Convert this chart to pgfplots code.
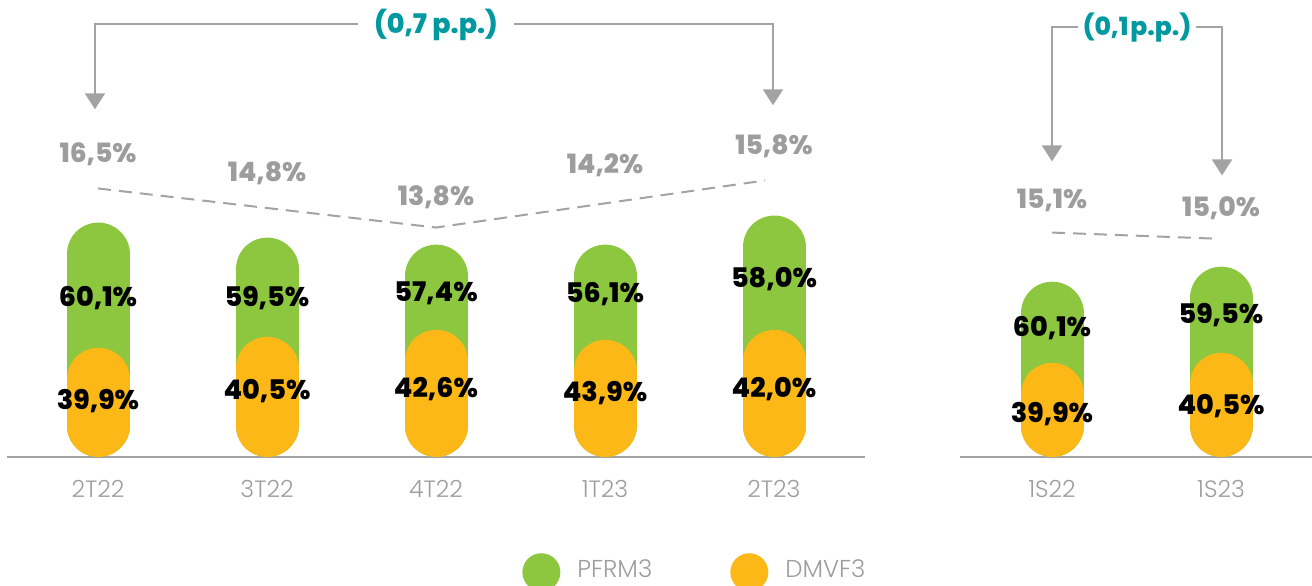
\documentclass[border=0pt]{standalone}
\usepackage{fontspec}
\setmainfont{Poppins}
\IfFontExistsTF{Poppins Light}{\newfontfamily\lightfont{Poppins Light}}{\newfontfamily\lightfont{Poppins}}
\IfFontExistsTF{Poppins ExtraBold}{\newfontfamily\heavyfont{Poppins ExtraBold}}{\newcommand\heavyfont{\bfseries}}
\usepackage{pgfplots}
\pgfplotsset{compat=1.18}
\usetikzlibrary{arrows.meta}
\definecolor{pfgreen}{HTML}{8DC63F}
\definecolor{dmorange}{HTML}{FBB817}
\definecolor{txtgray}{HTML}{9D9D9D}
\definecolor{lngray}{HTML}{A3A3A3}
\definecolor{ppteal}{HTML}{00999F}
\pgfplotsset{
  pillpanel/.style={
    scale only axis, height=228.5pt, ymin=0, ymax=457,
    axis y line=none, axis x line*=bottom,
    x axis line style={draw=lngray, line width=1pt, -},
    major tick length=0pt, clip=false, unbounded coords=jump,
    xticklabel style={font=\lightfont\fontsize{11.8}{12}\selectfont, text=txtgray, anchor=base, yshift=-20pt},
  },
  gpill/.style={color=pfgreen, line width=31.5pt, line cap=round},
  opill/.style={color=dmorange, line width=31.5pt, line cap=round},
  trend/.style={lngray, line width=1pt, dash pattern=on 6.5pt off 4pt},
}
\tikzset{
  vlab/.style={anchor=base, font=\heavyfont\fontsize{13.5}{14}\selectfont, text=black},
  glab/.style={anchor=base, font=\heavyfont\fontsize{13.3}{14}\selectfont, text=txtgray},
  tlab/.style={anchor=base, font=\heavyfont\fontsize{13.5}{14}\selectfont, text=ppteal},
  brk/.style={draw=lngray, line width=1pt, -{Triangle[width=10pt,length=8pt]}},
}
\begin{document}
\begin{tikzpicture}
% ---------------- left panel (quarters) ----------------
\begin{axis}[pillpanel, at={(3.5pt,64pt)}, anchor=south west,
  width=429pt, xmin=-0.5385, xmax=4.5385,
  xtick={0,1,2,3,4}, xticklabels={2T22,3T22,4T22,1T23,2T23},
  legend columns=2,
  legend image code/.code={\fill[#1,draw=none] (0pt,-1pt) circle (9.5pt);},
  legend style={at={(axis description cs:0.6002,-0.2516)}, anchor=west,
    draw=none, fill=none, inner sep=0pt,
    font=\lightfont\fontsize{12.2}{14}\selectfont, text=txtgray,
    nodes={inner sep=0pt},
    /tikz/every odd column/.append style={column sep=8.5pt},
    /tikz/every even column/.append style={column sep=39pt}},
]
\addplot[gpill] table[row sep=\\] {x y\\ 0 31.5\\ 0 202.5\\ 0 nan\\ 1 31.5\\ 1 187.5\\ 1 nan\\ 2 31.5\\ 2 180.5\\ 2 nan\\ 3 31.5\\ 3 180.5\\ 3 nan\\ 4 31.5\\ 4 209.5\\};
\addlegendentry{PFRM3}
\addplot[opill] table[row sep=\\] {x y\\ 0 31.5\\ 0 77.5\\ 0 nan\\ 1 31.5\\ 1 88.5\\ 1 nan\\ 2 31.5\\ 2 95.5\\ 2 nan\\ 3 31.5\\ 3 85.5\\ 3 nan\\ 4 31.5\\ 4 95.5\\};
\addlegendentry{DMVF3}
\addplot[trend, forget plot] coordinates {(0,268) (2,229) (3.947,276)};
% value labels
\node[vlab] at (axis cs:0,150.5) {60,1\%};
\node[vlab] at (axis cs:0,47.5) {39,9\%};
\node[vlab] at (axis cs:1,150.5) {59,5\%};
\node[vlab] at (axis cs:1,57.5) {40,5\%};
\node[vlab] at (axis cs:2,155.5) {57,4\%};
\node[vlab] at (axis cs:2,59.5) {42,6\%};
\node[vlab] at (axis cs:3,154.5) {56,1\%};
\node[vlab] at (axis cs:3,55.5) {43,9\%};
\node[vlab] at (axis cs:4,169.5) {58,0\%};
\node[vlab] at (axis cs:4,59.5) {42,0\%};
% trend labels
\node[glab] at (axis cs:0,294) {16,5\%};
\node[glab] at (axis cs:1,275) {14,8\%};
\node[glab] at (axis cs:2,251) {13,8\%};
\node[glab] at (axis cs:3,283) {14,2\%};
\node[glab] at (axis cs:4,302) {15,8\%};
% bracket
\draw[brk] (axis cs:1.538,432) -| (axis cs:-0.018,347);
\draw[brk] (axis cs:2.462,432) -| (axis cs:3.994,351);
\node[tlab] at (axis cs:2,423) {(0,7 p.p.)};
\end{axis}
% ---------------- right panel (semesters) ----------------
\begin{axis}[pillpanel, at={(480pt,64pt)}, anchor=south west,
  width=176pt, xmin=-0.5444, xmax=1.5385,
  xtick={0,1}, xticklabels={1S22,1S23},
]
\addplot[gpill] table[row sep=\\] {x y\\ 0 31.5\\ 0 143.5\\ 0 nan\\ 1 31.5\\ 1 158.5\\};
\addplot[opill] table[row sep=\\] {x y\\ 0 31.5\\ 0 62.5\\ 0 nan\\ 1 31.5\\ 1 72.5\\};
\addplot[trend] coordinates {(0,224) (0.953,218)};
\node[vlab] at (axis cs:0,120.5) {60,1\%};
\node[vlab] at (axis cs:0,34.5) {39,9\%};
\node[vlab] at (axis cs:1,133.5) {59,5\%};
\node[vlab] at (axis cs:1,42.5) {40,5\%};
\node[glab] at (axis cs:0,248) {15,1\%};
\node[glab] at (axis cs:1,240) {15,0\%};
\draw[brk] (axis cs:0.154,429) -| (axis cs:0,295);
\draw[brk] (axis cs:0.852,429) -| (axis cs:1.006,281);
\node[tlab, font=\heavyfont\fontsize{12.5}{14}\selectfont] at (axis cs:0.503,420.5) {(0,1\hspace{1pt}p.p.)};
\end{axis}
\pgfresetboundingbox
\path[use as bounding box] (0,0) rectangle (656pt,292.5pt);
\end{tikzpicture}
\end{document}
